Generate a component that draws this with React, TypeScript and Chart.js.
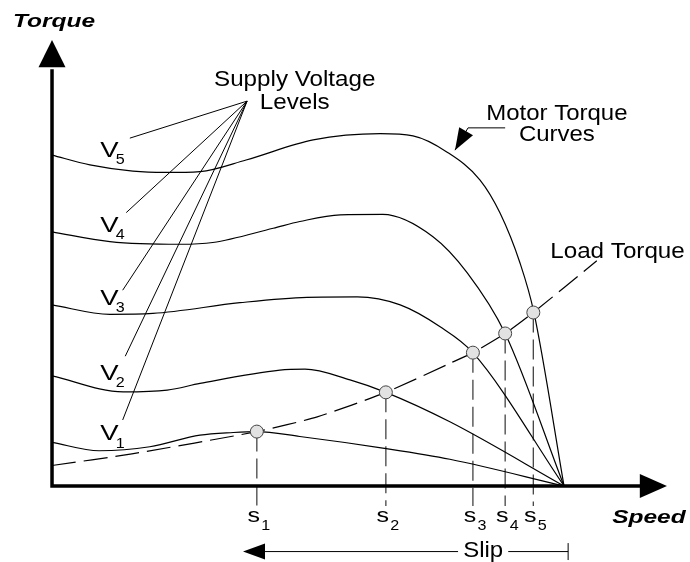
import React, { useEffect, useRef } from "react";
import { Chart, registerables } from "chart.js";
Chart.register(...registerables);

// ---- Data (speed in % of synchronous speed, torque in % of axis height) ----
const V1_X = [0, 9.2, 19.1, 28.9, 35.4, 40.0, 48.4, 64.6, 77.7, 100];
const V1_Y = [9.8, 7.9, 8.8, 11.4, 12.0, 12.2, 11.1, 8.5, 6.0, 0];

const V2_X = [0, 13.9, 22.5, 28.9, 44.5, 49.4, 58.2, 65.2, 77.7, 100];
const V2_Y = [24.7, 21.1, 21.5, 23.0, 26.0, 26.2, 23.8, 21.0, 14.4, 0];

const V3_X = [0, 11.3, 19.7, 36.7, 49.8, 59.6, 68.0, 75.8, 82.2, 100];
const V3_Y = [40.6, 38.5, 38.7, 41.1, 42.3, 42.4, 40.6, 35.7, 29.9, 0];

const V4_X = [0, 11.3, 25.0, 31.4, 43.2, 48.4, 56.3, 64.6, 74.4, 81.1, 88.5, 100];
const V4_Y = [57.0, 54.8, 54.2, 54.6, 57.8, 59.3, 60.8, 60.9, 55.9, 47.8, 34.2, 0];

const V5_X = [0, 7.4, 15.8, 22.1, 28.9, 37.9, 51.0, 64.1, 70.5, 77.1, 83.6, 87.5, 91.4, 94.1, 100];
const V5_Y = [74.2, 72.0, 70.6, 70.3, 70.5, 73.1, 77.6, 79.0, 78.5, 74.9, 68.6, 61.2, 50.0, 39.0, 0];

const LOAD_X = [0, 15.6, 40.0, 51.8, 65.2, 77.7, 82.2, 88.5, 94.0, 106.4];
const LOAD_Y = [4.6, 7.2, 12.2, 15.5, 21.0, 27.5, 29.9, 34.2, 38.9, 50.5];

// operating points (slip s1..s5)
const OP_NAMES = ["1", "2", "3", "4", "5"];
const OP_X = [40.0, 65.2, 82.2, 88.5, 94.0];
const OP_Y = [12.2, 21.0, 29.9, 34.2, 38.9];

const V_NAMES = ["1", "2", "3", "4", "5"];

// ---- view / annotation layout (data units) ----
const X_MIN = -10.16, X_MAX = 124.6, Y_MIN = -17.04, Y_MAX = 108.97;
const DROP_Y = -4.5;
const V_LABEL_X = 9.4;
const V_LABEL_Y = [10.3, 23.8, 40.6, 57.0, 73.8];
const LEADER_FOCUS = { x: 38.1, y: 86.3 };
const LEADER_END_X = [13.8, 14.3, 13.8, 14.5, 15.2];
const LEADER_END_Y = [14.8, 29.1, 43.9, 61.3, 78.0];

const FONT = '"Liberation Sans", Arial, Helvetica, sans-serif';

function pts(xs: number[], ys: number[]) {
  return xs.map((x, i) => ({ x, y: ys[i] }));
}

function txt(ctx: CanvasRenderingContext2D, t: string, x: number, y: number, font: string, sx: number, align: CanvasTextAlign = "left") {
  ctx.save();
  ctx.font = font;
  ctx.textAlign = align;
  ctx.textBaseline = "alphabetic";
  ctx.fillStyle = "#000";
  ctx.translate(x, y);
  ctx.scale(sx, 1);
  ctx.fillText(t, 0, 0);
  ctx.restore();
}

const annotations = {
  id: "annotations",
  afterDatasetsDraw(chart: any) {
    const ctx: CanvasRenderingContext2D = chart.ctx;
    const xs = chart.scales.x, ys = chart.scales.y;
    const px = (v: number) => xs.getPixelForValue(v);
    const py = (v: number) => ys.getPixelForValue(v);
    ctx.save();
    ctx.strokeStyle = "#000";
    ctx.fillStyle = "#000";
    ctx.setLineDash([]);

    // axes
    const ox = px(0), oy = py(0);
    const yTip = py(100), yBase = py(93.9);
    const xTip = px(120.1), xBase = px(114.8);
    ctx.lineWidth = 3.5;
    ctx.beginPath();
    ctx.moveTo(ox, oy + 1.75);
    ctx.lineTo(ox, yBase + 2);
    ctx.moveTo(ox - 1.75, oy);
    ctx.lineTo(xBase + 2, oy);
    ctx.stroke();
    ctx.beginPath();
    ctx.moveTo(ox, yTip);
    ctx.lineTo(ox - 13.5, yBase);
    ctx.lineTo(ox + 13.5, yBase);
    ctx.closePath();
    ctx.fill();
    ctx.beginPath();
    ctx.moveTo(xTip, oy);
    ctx.lineTo(xBase, oy - 12);
    ctx.lineTo(xBase, oy + 12);
    ctx.closePath();
    ctx.fill();

    // axis titles
    txt(ctx, "Torque", px(0.4), py(102.9), `italic bold 18px ${FONT}`, 1.36, "center");
    txt(ctx, "Speed", px(109.4), py(-8.4), `italic bold 18px ${FONT}`, 1.36, "left");

    // supply voltage leaders
    ctx.lineWidth = 1;
    ctx.beginPath();
    LEADER_END_X.forEach((x, i) => {
      ctx.moveTo(px(LEADER_FOCUS.x), py(LEADER_FOCUS.y));
      ctx.lineTo(px(x), py(LEADER_END_Y[i]));
    });
    ctx.stroke();
    txt(ctx, "Supply Voltage", px(47.4), py(89.7), `22px ${FONT}`, 1.1, "center");
    txt(ctx, "Levels", px(47.4), py(84.6), `22px ${FONT}`, 1.1, "center");

    // V labels
    V_NAMES.forEach((n, i) => {
      const x = px(V_LABEL_X), y = py(V_LABEL_Y[i]);
      txt(ctx, "V", x, y, `22px ${FONT}`, 1.25, "left");
      txt(ctx, n, x + 15.5, y + 7.5, `14px ${FONT}`, 1.15, "left");
    });

    // motor torque curves label + arrow
    txt(ctx, "Motor Torque", px(98.6), py(82.1), `22px ${FONT}`, 1.09, "center");
    txt(ctx, "Curves", px(98.6), py(77.4), `22px ${FONT}`, 1.09, "center");
    ctx.lineWidth = 1;
    const a0x = px(88.5), a0y = py(80.3), a1x = px(81.25), a1y = py(80.3);
    const tx = px(78.7), ty = py(75.3);
    ctx.beginPath();
    ctx.moveTo(a0x, a0y);
    ctx.lineTo(a1x, a1y);
    ctx.lineTo(tx, ty);
    ctx.stroke();
    {
      const dx = a1x - tx, dy = a1y - ty;
      const L = Math.hypot(dx, dy);
      const ux = dx / L, uy = dy / L;
      const hl = 22, hw = 8;
      const bx = tx + ux * hl, by = ty + uy * hl;
      ctx.beginPath();
      ctx.moveTo(tx, ty);
      ctx.lineTo(bx - uy * hw, by + ux * hw);
      ctx.lineTo(bx + uy * hw, by - ux * hw);
      ctx.closePath();
      ctx.fill();
    }

    // load torque label
    txt(ctx, "Load Torque", px(97.3), py(51.1), `22px ${FONT}`, 1.1, "left");

    // slip labels
    OP_X.forEach((x, i) => {
      const cx = px(x);
      txt(ctx, "s", cx - 3, py(-8.0), `20px ${FONT}`, 1.25, "center");
      txt(ctx, OP_NAMES[i], cx + 4.5, py(-9.9), `14px ${FONT}`, 1.15, "left");
    });

    // slip arrow
    const sy = py(-14.7);
    const sTip = px(37.3), sBase = px(41.6), sEnd = px(100.8);
    const gap0 = px(79.3), gap1 = px(89.1);
    ctx.lineWidth = 1;
    ctx.beginPath();
    ctx.moveTo(sBase, sy);
    ctx.lineTo(gap0, sy);
    ctx.moveTo(gap1, sy);
    ctx.lineTo(sEnd, sy);
    ctx.moveTo(sEnd, py(-12.8));
    ctx.lineTo(sEnd, py(-16.6));
    ctx.stroke();
    ctx.beginPath();
    ctx.moveTo(sTip, sy);
    ctx.lineTo(sBase, sy - 8);
    ctx.lineTo(sBase, sy + 8);
    ctx.closePath();
    ctx.fill();
    txt(ctx, "Slip", px(84.2), py(-16.0), `22px ${FONT}`, 1.09, "center");

    ctx.restore();
  },
};

export default function App() {
  const ref = useRef<HTMLCanvasElement | null>(null);
  useEffect(() => {
    if (!ref.current) return;
    const curve = (xs: number[], ys: number[]) => ({
      data: pts(xs, ys),
      borderColor: "#000",
      borderWidth: 1.2,
      pointRadius: 0,
      cubicInterpolationMode: "monotone" as const,
      fill: false,
      order: 3,
    });
    const drops = OP_X.map((x, i) => ({
      data: [{ x, y: OP_Y[i] }, { x, y: DROP_Y }],
      borderColor: "#444",
      borderWidth: 1.3,
      borderDash: [20, 7],
      pointRadius: 0,
      tension: 0,
      fill: false,
      order: 4,
    }));
    const chart = new Chart(ref.current, {
      type: "line",
      data: {
        datasets: [
          {
            data: pts(OP_X, OP_Y),
            showLine: false,
            pointRadius: 6.5,
            pointBackgroundColor: "#e2e2e2",
            pointBorderColor: "#444",
            pointBorderWidth: 1,
            order: 0,
          } as any,
          {
            data: pts(LOAD_X, LOAD_Y),
            borderColor: "#000",
            borderWidth: 1.2,
            borderDash: [24, 8],
            pointRadius: 0,
            tension: 0.2,
            fill: false,
            order: 2,
          },
          curve(V1_X, V1_Y),
          curve(V2_X, V2_Y),
          curve(V3_X, V3_Y),
          curve(V4_X, V4_Y),
          curve(V5_X, V5_Y),
          ...drops,
        ],
      },
      options: {
        responsive: false,
        animation: false,
        devicePixelRatio: 1,
        layout: { padding: 0, autoPadding: false },
        plugins: { legend: { display: false }, tooltip: { enabled: false }, title: { display: false } },
        scales: {
          x: { type: "linear", min: X_MIN, max: X_MAX, display: false },
          y: { type: "linear", min: Y_MIN, max: Y_MAX, display: false },
        },
      },
      plugins: [annotations],
    });
    return () => chart.destroy();
  }, []);
  return (
    <div style={{ position: "fixed", left: 0, top: 0, width: 690, height: 562, background: "#fff" }}>
      <canvas ref={ref} width={690} height={562} style={{ display: "block" }} />
    </div>
  );
}
